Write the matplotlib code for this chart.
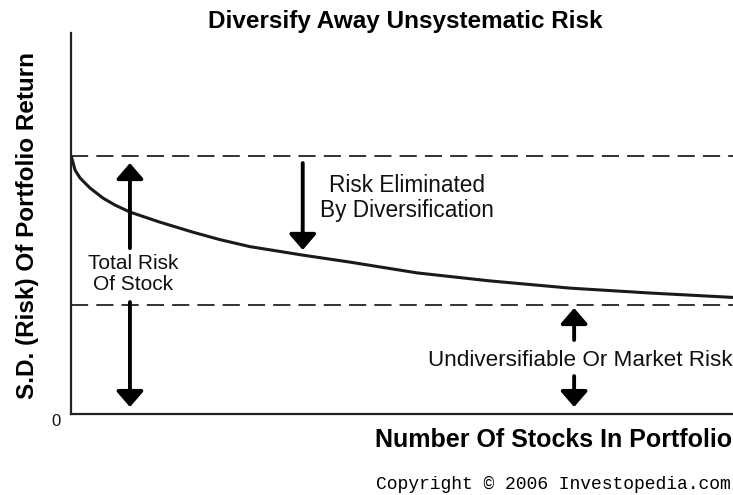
import matplotlib.pyplot as plt

# Curve: portfolio risk vs number of stocks (risk of a single stock = 1)
n_stocks = [0, 0.2, 0.6, 1.36, 2.87, 4.83, 6.65, 8.9, 13.4, 18.4, 22.5, 27.0,
            35.0, 42.1, 52.3, 63.3, 75.4, 87.5, 100]
portfolio_risk = [1.0, 0.985, 0.946, 0.915, 0.876, 0.837, 0.810, 0.783, 0.744,
                  0.705, 0.676, 0.649, 0.616, 0.589, 0.547, 0.516, 0.488, 0.469, 0.452]

total_risk = 1.0
market_risk = 0.4225

# Annotation arrows: (x, tail_y, tip_y)
arrows = [
    (8.9, 0.643, 0.973),
    (8.9, 0.434, 0.027),
    (35.0, 0.973, 0.636),
    (76.0, 0.287, 0.411),
    (76.0, 0.147, 0.027),
]

# Annotation labels: (x, y, text, fontsize)
labels = [
    (9.4, 0.543, "Total Risk\nOf Stock", 15),
    (50.8, 0.837, "Risk Eliminated\nBy Diversification", 16.3),
    (76.9, 0.209, "Undiversifiable Or Market Risk", 16.2),
]

plt.rcParams['font.family'] = ['Liberation Sans', 'DejaVu Sans']

fig = plt.figure(figsize=(7.33, 4.95), dpi=100)
ax = fig.add_axes([0.0969, 0.1636, 0.9031, 0.7697])

ax.set_xlim(0, 100)
ax.set_ylim(0, 1.477)

# Spines
for side in ['top', 'right']:
    ax.spines[side].set_visible(False)
for side in ['left', 'bottom']:
    ax.spines[side].set_linewidth(1.6)
    ax.spines[side].set_color('#222222')
ax.set_xticks([])
ax.set_yticks([])

# Dashed reference lines
for level in [total_risk, market_risk]:
    ax.axhline(level, color='#222222', lw=1.3, dashes=(9.5, 4.5))

# Risk curve
ax.plot(n_stocks, portfolio_risk, color='#1a1a1a', lw=2.2,
        solid_capstyle='round', solid_joinstyle='round')

# Arrows
for x, y0, y1 in arrows:
    ax.annotate('', xy=(x, y1), xytext=(x, y0),
                arrowprops=dict(arrowstyle='-|>,head_length=0.95,head_width=0.82',
                                mutation_scale=10, lw=2.8, color='black',
                                shrinkA=0, shrinkB=0))

# Labels
for x, y, txt, size in labels:
    ax.text(x, y, txt, ha='center', va='center', fontsize=size,
            linespacing=1.15, color='#111111')

ax.text(-1.5, 0, '0', ha='right', va='top', fontsize=12, color='#111111')

fig.text(0.5525, 0.9556, 'Diversify Away Unsystematic Risk', ha='center', va='center',
         fontsize=17.5, fontweight='bold',
         family=['Liberation Sans Narrow', 'Liberation Sans', 'DejaVu Sans'])
fig.text(0.037, 0.545, 'S.D. (Risk) Of Portfolio Return', ha='center', va='center',
         rotation=90, fontsize=17.5, fontweight='bold')
fig.text(0.999, 0.111, 'Number Of Stocks In Portfolio', ha='right', va='center',
         fontsize=18, fontweight='bold')
fig.text(0.997, 0.022, 'Copyright \u00a9 2006 Investopedia.com', ha='right', va='center',
         fontsize=13, family=['Liberation Mono', 'DejaVu Sans Mono'])

fig.savefig('out.png', dpi=100, facecolor='white')
